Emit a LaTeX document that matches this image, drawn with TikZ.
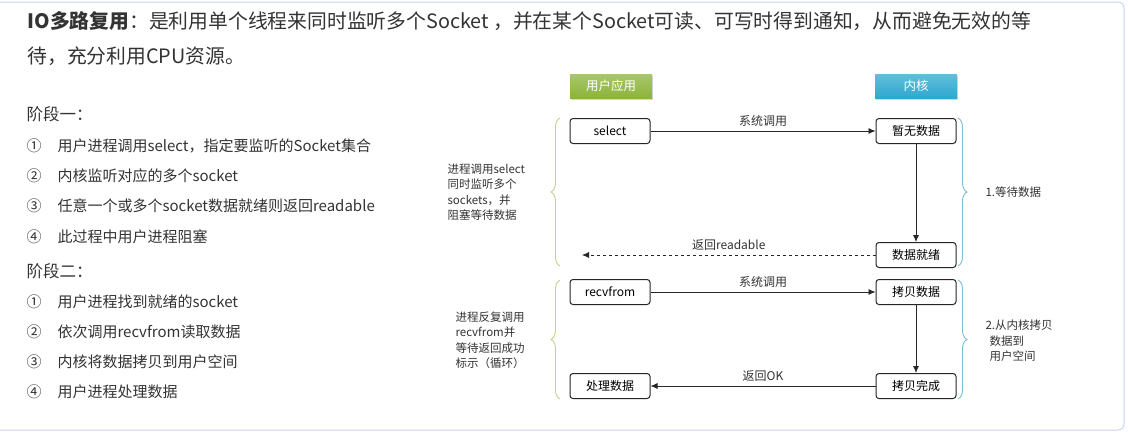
\documentclass[tikz,border=0pt]{standalone}
\usepackage{fontspec}
\setmainfont{Noto Sans CJK SC}
\usetikzlibrary{decorations.pathreplacing,arrows.meta,shadows}
\definecolor{hgreen}{HTML}{8CB43A}
\definecolor{hblue}{HTML}{2EA8CF}
\definecolor{bgreen}{HTML}{C9CF8E}
\definecolor{bblue}{HTML}{79BFD3}
\definecolor{txt}{HTML}{333333}
\definecolor{frame}{HTML}{C8D4F0}
\begin{document}
\begin{tikzpicture}[x=1pt,y=-1pt,
  box/.style={draw=black!85,line width=1pt,rounded corners=3pt,minimum width=80pt,minimum height=25pt,font=\fontsize{12}{14}\selectfont,inner sep=0pt,fill=white},
  head/.style={minimum width=82pt,minimum height=24pt,font=\fontsize{12.5}{14}\selectfont,text=white,inner sep=0pt,drop shadow={opacity=0.3,shadow xshift=1pt,shadow yshift=-1.5pt}},
  lbl/.style={font=\fontsize{12}{14}\selectfont,text=txt},
  side/.style={font=\fontsize{11.5}{15.5}\selectfont,text=txt,align=left,anchor=west},
  item/.style={font=\fontsize{15}{17}\selectfont,text=txt,anchor=west},
  arr/.style={-{Latex[length=7pt,width=6pt]},line width=0.8pt,draw=black!85},
  brc/.style={decorate,decoration={brace,amplitude=9pt},line width=0.9pt}]
\useasboundingbox (0,0) rectangle (1128,432);
\fill[white] (0,0) rectangle (1128,432);
\draw[frame,line width=1pt,rounded corners=6pt] (-5,2) rectangle (1124,430);
% left text
\node[anchor=west,font=\fontsize{19.8}{22}\selectfont,text=txt] (t1) at (24,21) {\textbf{IO多路复用}：是利用单个线程来同时监听多个Socket ，并在某个Socket可读、可写时得到通知，从而避免无效的等};
\node[anchor=west,font=\fontsize{19.8}{22}\selectfont,text=txt] (t2) at (24,56) {待，充分利用CPU资源。};
\node[item,font=\fontsize{16.5}{18}\selectfont] (p1) at (23,114) {阶段一：};
\node[item] (a1) at (23,146) {①\hspace{16pt}用户进程调用select，指定要监听的Socket集合};
\node[item] (a2) at (23,176) {②\hspace{16pt}内核监听对应的多个socket};
\node[item] (a3) at (23,206) {③\hspace{16pt}任意一个或多个socket数据就绪则返回readable};
\node[item] (a4) at (23,237) {④\hspace{16pt}此过程中用户进程阻塞};
\node[item,font=\fontsize{16.5}{18}\selectfont] (p2) at (23,271) {阶段二：};
\node[item] (b1) at (23,302) {①\hspace{16pt}用户进程找到就绪的socket};
\node[item] (b2) at (23,332) {②\hspace{16pt}依次调用recvfrom读取数据};
\node[item] (b3) at (23,362) {③\hspace{16pt}内核将数据拷贝到用户空间};
\node[item] (b4) at (23,392) {④\hspace{16pt}用户进程处理数据};
% headers
\node[head,top color=hgreen!75,bottom color=hgreen] (hu) at (611,86) {用户应用};
\node[head,top color=hblue!75,bottom color=hblue] (hk) at (916,86) {内核};
% boxes
\node[box] (sel) at (610,131) {select};
\node[box] (wu) at (916,131) {暂无数据};
\node[box] (ready) at (916,255) {数据就绪};
\coordinate (dend) at (582,255);
\node[box] (recv) at (610,292) {recvfrom};
\node[box] (copy) at (916,292) {拷贝数据};
\node[box] (proc) at (610,386) {处理数据};
\node[box] (done) at (916,386) {拷贝完成};
\draw[arr] (sel) -- node[lbl,above=1pt] {系统调用} (wu);
\draw[arr] (wu) -- (ready);
\draw[arr,dashed] (ready) -- node[lbl,above=1pt] {返回readable} (dend);
\draw[arr] (recv) -- node[lbl,above=1pt] {系统调用} (copy);
\draw[arr] (copy) -- (done);
\draw[arr] (done) -- node[lbl,above=1pt] {返回OK} (proc);
% braces
\draw[brc,bgreen] (560,266) -- (560,118);
\draw[brc,bgreen] (560,399) -- (560,280);
\draw[brc,bblue] (958,118) -- (958,266);
\draw[brc,bblue] (958,280) -- (958,399);
\node[side] (s1) at (444,192) {进程调用select\\同时监听多个\\sockets，并\\阻塞等待数据};
\node[side] (s2) at (452,340) {进程反复调用\\recvfrom并\\等待返回成功\\标示（循环）};
\node[side] (r1) at (982,192) {1.等待数据};
\node[side] (r2) at (982,341) {2.从内核拷贝\\\hspace{4pt}数据到\\\hspace{4pt}用户空间};
\end{tikzpicture}
\end{document}
